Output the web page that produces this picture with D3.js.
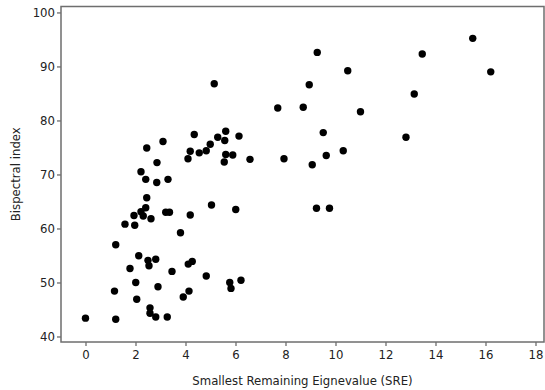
<!DOCTYPE html>
<html>
<head>
<meta charset="utf-8">
<script src="https://cdn.jsdelivr.net/npm/d3@7"></script>
<style>
  body { margin: 0; background: #fff; }
  svg text { font-family: "DejaVu Sans Condensed", "DejaVu Sans", sans-serif; fill: #222; }
</style>
</head>
<body>
<div id="g-container"></div>
<script>
	// smallest remaining eigenvalue vs bispectral index
	var sre = [0, 1.21, 1.16, 1.21, 1.58, 1.97, 1.94, 2.22, 2.31, 2.41, 2.45, 2.62, 3.21, 3.36, 3.8,
		1.78, 2.13, 2.5, 2.54, 2.81, 3.46, 2.01, 2.9, 2.05, 2.58, 2.58, 2.81, 3.27,
		2.45, 3.1, 2.86, 2.22, 2.41, 2.85, 3.3,
		4.35, 5.29, 5.61, 5.57, 6.14, 4.99, 4.83, 4.55, 4.19, 4.1, 5.61, 5.89, 5.55, 6.58,
		4.19, 5.04, 6.01, 4.11, 4.27, 4.83, 5.77, 5.82, 6.22, 4.14, 3.91,
		5.15, 7.69, 8.71, 8.95, 9.27, 10.49, 11.0, 9.51, 7.94, 9.07, 9.63, 10.31, 9.24, 9.76,
		12.82, 15.49, 13.47, 16.21, 13.15]
	var bis = [43.4, 43.2, 48.4, 57.0, 60.8, 60.6, 62.4, 63.1, 62.3, 63.85, 65.7, 61.8, 63.0, 63.0, 59.2,
		52.6, 54.95, 54.1, 53.1, 54.3, 52.05, 50.0, 49.2, 46.9, 45.3, 44.3, 43.6, 43.6,
		74.9, 76.1, 72.2, 70.5, 69.1, 68.5, 69.1,
		77.4, 76.9, 78.0, 76.3, 77.1, 75.6, 74.4, 74.0, 74.3, 72.9, 73.7, 73.6, 72.3, 72.8,
		62.5, 64.35, 63.5, 53.4, 53.9, 51.2, 50.0, 48.9, 50.4, 48.4, 47.3,
		86.8, 82.3, 82.45, 86.6, 92.6, 89.2, 81.6, 77.75, 72.9, 71.8, 73.5, 74.4, 63.75, 63.75,
		76.9, 95.2, 92.3, 89.0, 84.9]
	var xTicks = [0, 2, 4, 6, 8, 10, 12, 14, 16, 18]
	var yTicks = [40, 50, 60, 70, 80, 90, 100]

	var data = sre.map(function(d, i){ return {x: d, y: bis[i]} })

	var svg_width = 545
	var svg_height = 390
	var svg = d3.select("#g-container").append("svg").attr("width", svg_width).attr("height", svg_height)

	var m = {left: 61, right: 544, top: 6.5, bottom: 342}

	var x = d3.scaleLinear().domain([-0.98, 18.34]).range([m.left, m.right])
	var y = d3.scaleLinear().domain([38.98, 101.1]).range([m.bottom, m.top])

	// frame
	svg.append("rect")
		.attr("x", m.left)
		.attr("y", m.top)
		.attr("width", m.right - m.left)
		.attr("height", m.bottom - m.top)
		.attr("fill", "none")
		.attr("stroke", "#6e6e6e")
		.attr("stroke-width", 1.5)

	svg.append("g")
		.attr("transform", "translate(0," + m.bottom + ")")
		.call(d3.axisBottom(x).tickValues(xTicks).tickSize(4).tickSizeOuter(0).tickPadding(4))
	svg.append("g")
		.attr("transform", "translate(" + m.left + ",0)")
		.call(d3.axisLeft(y).tickValues(yTicks).tickSize(4).tickSizeOuter(0).tickPadding(2))

	svg.selectAll(".domain").remove()
	svg.selectAll(".tick line").attr("stroke", "#6e6e6e").attr("stroke-width", 1.3)
	svg.selectAll(".tick text").style("font-size", "13px").style("font-family", "DejaVu Sans Condensed, DejaVu Sans, sans-serif").attr("fill", "#222")

	svg.append("g").selectAll("circle")
		.data(data)
		.enter()
		.append("circle")
		.attr("cx", function(d){ return x(d.x) })
		.attr("cy", function(d){ return y(d.y) })
		.attr("r", 3.7)
		.attr("fill", "#000")

	svg.append("text")
		.attr("x", (m.left + m.right) / 2)
		.attr("y", 385)
		.attr("text-anchor", "middle")
		.style("font-size", "13px")
		.text("Smallest Remaining Eignevalue (SRE)")

	svg.append("text")
		.attr("transform", "translate(20," + ((m.top + m.bottom) / 2) + ") rotate(-90)")
		.attr("text-anchor", "middle")
		.style("font-size", "13px")
		.text("Bispectral index")
</script>
</body>
</html>
